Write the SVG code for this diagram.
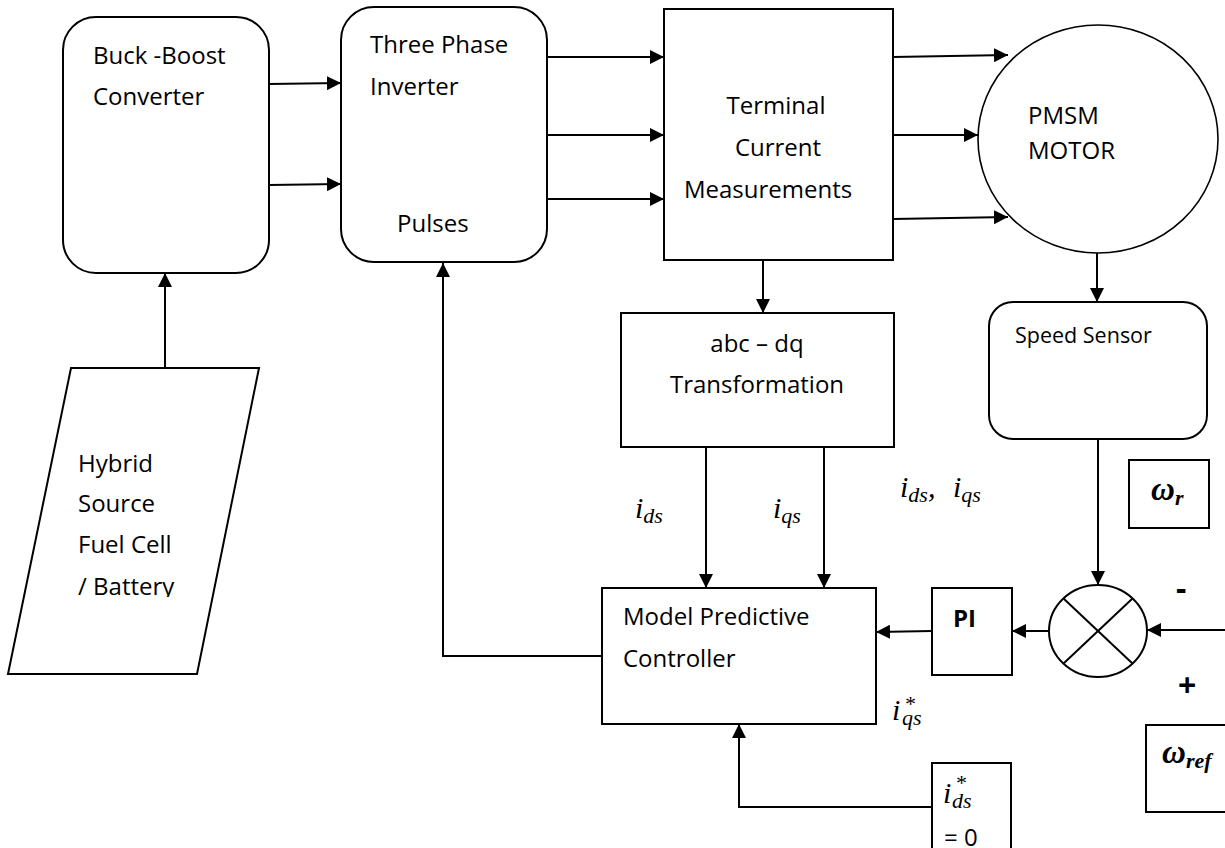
<svg xmlns="http://www.w3.org/2000/svg" width="1225" height="848" viewBox="0 0 1225 848">
<style>
.box{fill:#fff;stroke:#000;stroke-width:2}
.thin{fill:#fff;stroke:#000;stroke-width:1.6}
.t{font-family:"Open Sans","Liberation Sans",sans-serif;font-size:24px;fill:#000}
.ts{font-family:"Open Sans","Liberation Sans",sans-serif;font-size:21.5px;fill:#000}
.b{font-family:"Open Sans","Liberation Sans",sans-serif;font-size:24px;font-weight:bold;fill:#000}
.pm{font-family:"Open Sans","Liberation Sans",sans-serif;font-size:32px;font-weight:bold;fill:#000}
.m{font-family:"Liberation Serif","DejaVu Serif",serif;font-style:italic;font-size:30px;fill:#000}
.sub{font-size:22px}
.w{font-family:"Liberation Serif","DejaVu Serif",serif;font-style:italic;font-weight:bold;font-size:33px;fill:#000}
.c{fill:none;stroke:#000;stroke-width:2}
</style>
<defs>
<marker id="ah" viewBox="0 0 14 14" refX="14" refY="7" markerWidth="14" markerHeight="14" orient="auto" markerUnits="userSpaceOnUse"><path d="M0,0 L14,7 L0,14 z" fill="#000"/></marker>
<clipPath id="clipH"><rect x="0" y="360" width="300" height="237"/></clipPath>
</defs>

<g id="connectors">
<line class="c" x1="269" y1="84" x2="341" y2="83" marker-end="url(#ah)"/>
<line class="c" x1="269" y1="185" x2="341" y2="184" marker-end="url(#ah)"/>
<line class="c" x1="547" y1="57" x2="664" y2="57" marker-end="url(#ah)"/>
<line class="c" x1="547" y1="135" x2="664" y2="135" marker-end="url(#ah)"/>
<line class="c" x1="547" y1="199" x2="664" y2="199" marker-end="url(#ah)"/>
<line class="c" x1="893" y1="57" x2="1008" y2="55" marker-end="url(#ah)"/>
<line class="c" x1="893" y1="135" x2="978" y2="135" marker-end="url(#ah)"/>
<line class="c" x1="893" y1="219" x2="1008" y2="217" marker-end="url(#ah)"/>
<line class="c" x1="165" y1="368" x2="165" y2="273" marker-end="url(#ah)"/>
<line class="c" x1="763" y1="260" x2="763" y2="313" marker-end="url(#ah)"/>
<line class="c" x1="1097" y1="253" x2="1097" y2="302" marker-end="url(#ah)"/>
<line class="c" x1="706" y1="447" x2="706" y2="588" marker-end="url(#ah)"/>
<line class="c" x1="824" y1="447" x2="824" y2="588" marker-end="url(#ah)"/>
<polyline class="c" points="602,656 443,656 443,263" marker-end="url(#ah)"/>
<line class="c" x1="1098" y1="439" x2="1098" y2="585" marker-end="url(#ah)"/>
<line class="c" x1="1049" y1="631" x2="1012" y2="631" marker-end="url(#ah)"/>
<line class="c" x1="932" y1="631" x2="876" y2="632" marker-end="url(#ah)"/>
<line class="c" x1="1226" y1="630" x2="1147" y2="630" marker-end="url(#ah)"/>
<polyline class="c" points="932,807 739,807 739,724" marker-end="url(#ah)"/>
</g>

<g id="buck-boost">
<rect class="box" x="63" y="17" width="206" height="256" rx="33"/>
<text class="t" x="93" y="64">Buck -Boost</text>
<text class="t" x="93" y="105">Converter</text>
</g>

<g id="inverter">
<rect class="box" x="341" y="7" width="206" height="255" rx="33"/>
<text class="t" x="370" y="53">Three Phase</text>
<text class="t" x="370" y="95">Inverter</text>
<text class="t" x="397" y="232">Pulses</text>
</g>

<g id="terminal">
<rect class="box" x="664" y="9" width="229" height="251"/>
<text class="t" x="776" y="114" text-anchor="middle">Terminal</text>
<text class="t" x="778" y="156" text-anchor="middle">Current</text>
<text class="t" x="768" y="198" text-anchor="middle">Measurements</text>
</g>

<g id="motor">
<ellipse class="thin" cx="1098" cy="139" rx="120" ry="114"/>
<text class="t" x="1028" y="124">PMSM</text>
<text class="t" x="1028" y="159">MOTOR</text>
</g>

<g id="hybrid">
<polygon class="box" points="71,368 259,368 197,674 8,674"/>
<g clip-path="url(#clipH)">
<text class="t" x="78" y="472">Hybrid</text>
<text class="t" x="78" y="512">Source</text>
<text class="t" x="78" y="553">Fuel Cell</text>
<text class="t" x="78" y="595">/ Battery</text>
</g>
</g>

<g id="abc-dq">
<rect class="box" x="621" y="313" width="273" height="134"/>
<text class="t" x="757" y="352" text-anchor="middle">abc – dq</text>
<text class="t" x="757" y="393" text-anchor="middle">Transformation</text>
</g>

<g id="speed-sensor">
<rect class="box" x="989" y="302" width="218" height="137" rx="24"/>
<text class="ts" x="1015" y="343">Speed Sensor</text>
</g>

<g id="mpc">
<rect class="box" x="602" y="588" width="274" height="136"/>
<text class="t" x="623" y="625">Model Predictive</text>
<text class="t" x="623" y="667">Controller</text>
</g>

<g id="pi">
<rect class="box" x="932" y="588" width="80" height="87"/>
<text class="b" x="953" y="627">PI</text>
</g>

<g id="sum">
<ellipse class="box" cx="1098" cy="631" rx="49" ry="46"/>
<line class="c" x1="1063.5" y1="598.5" x2="1132.5" y2="663.5"/>
<line class="c" x1="1132.5" y1="598.5" x2="1063.5" y2="663.5"/>
<text class="pm" x="1176" y="600">-</text>
<text class="pm" x="1178" y="697">+</text>
</g>

<g id="omega-r">
<rect class="box" x="1129" y="460" width="80" height="68"/>
<text class="w" x="1151" y="500">ω<tspan class="sub" dy="5">r</tspan></text>
</g>

<g id="omega-ref">
<rect class="box" x="1146" y="725" width="90" height="87"/>
<text class="w" x="1162" y="763">ω<tspan class="sub" dy="5">ref</tspan></text>
</g>

<g id="ids-ref">
<rect class="box" x="932" y="763" width="79" height="90"/>
<text class="m" x="943" y="803">i<tspan class="sub" x="955" y="790">*</tspan><tspan class="sub" x="952" y="808">ds</tspan></text>
<text class="t" x="944" y="846">= 0</text>
</g>

<g id="labels">
<text class="m" x="635" y="518">i<tspan class="sub" dy="5">ds</tspan></text>
<text class="m" x="773" y="518">i<tspan class="sub" dy="5">qs</tspan></text>
<text class="m" x="900" y="497">i<tspan class="sub" dy="5">ds</tspan><tspan dy="-5">,</tspan></text>
<text class="m" x="953" y="497">i<tspan class="sub" dy="5">qs</tspan></text>
<text class="m" x="892" y="720">i<tspan class="sub" x="904" y="711">*</tspan><tspan class="sub" x="902" y="725">qs</tspan></text>
</g>
</svg>
